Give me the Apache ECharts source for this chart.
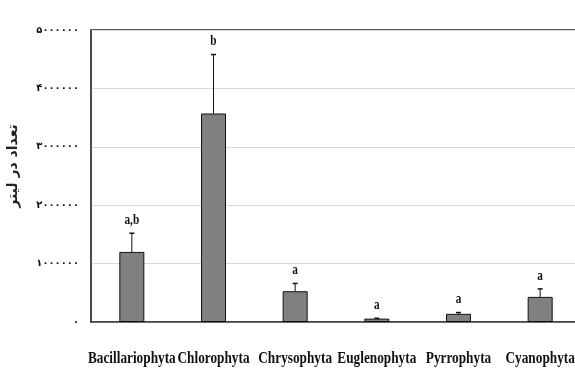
<!DOCTYPE html>
<html>
<head>
<meta charset="utf-8">
<script src="https://cdn.jsdelivr.net/npm/echarts@6/dist/echarts.min.js"></script>
<style>
  html, body { margin: 0; padding: 0; background: #fff; }
  #chart { width: 575px; height: 368px; }
</style>
</head>
<body>
<div id="chart"></div>
<script>
const categories = ['Bacillariophyta', 'Chlorophyta', 'Chrysophyta', 'Euglenophyta', 'Pyrrophyta', 'Cyanophyta'];
const counts = [1200000, 3570000, 527000, 58000, 140000, 430000];
const errors = [320000, 1010000, 133000, 6000, 22000, 137000];
const letters = ['a,b', 'b', 'a', 'a', 'a', 'a'];
const yTitle = 'تعداد در لیتر';

const persianDigits = '۰۱۲۳۴۵۶۷۸۹';
const toPersian = v => String(v).replace(/\d/g, d => persianDigits[d]);

const serif = '"Liberation Serif", "Times New Roman", serif';

const chart = echarts.init(document.getElementById('chart'));
chart.setOption({
  animation: false,
  grid: {
    left: 91,
    right: -6,
    top: 30,
    bottom: 46,
    outerBoundsMode: 'none',
    show: true,
    borderColor: '#222',
    borderWidth: 1.5,
  },
  xAxis: {
    type: 'category',
    data: categories,
    axisTick: { show: false },
    axisLine: { lineStyle: { color: '#444', width: 1.5 } },
    // labels drawn narrow by the custom series below
    axisLabel: { show: false },
  },
  yAxis: {
    type: 'value',
    min: 0,
    max: 5000000,
    interval: 1000000,
    name: yTitle,
    nameLocation: 'middle',
    nameGap: 71,
    nameTextStyle: {
      fontFamily: '"DejaVu Sans", sans-serif',
      fontWeight: 'bold',
      fontSize: 14,
      color: '#222',
      padding: [0, 0, 0, 20],
    },
    axisLine: { show: true, lineStyle: { color: '#444', width: 1.5 } },
    axisTick: { show: false },
    splitLine: { lineStyle: { color: '#d9d9d9', width: 1 } },
    axisLabel: {
      margin: 12,
      color: '#111',
      fontFamily: '"DejaVu Sans", sans-serif',
      fontWeight: 'bold',
      fontSize: 10,
      formatter: v => toPersian(v),
    },
  },
  series: [
    {
      type: 'bar',
      data: counts,
      barWidth: 25,
      itemStyle: { color: '#808080', borderColor: '#111', borderWidth: 1 },
      z: 2,
    },
    {
      type: 'custom',
      data: categories.map((c, i) => [i, counts[i], errors[i]]),
      z: 3,
      renderItem: (params, api) => {
        const base = api.coord([api.value(0), api.value(1)]);
        const top = api.coord([api.value(0), api.value(1) + api.value(2)]);
        const zero = api.coord([api.value(0), 0]);
        const x = base[0];
        return {
          type: 'group',
          children: [
            { type: 'line', shape: { x1: x, y1: base[1], x2: x, y2: top[1] }, style: { stroke: '#111', lineWidth: 1 } },
            { type: 'line', shape: { x1: x - 2.5, y1: top[1], x2: x + 2.5, y2: top[1] }, style: { stroke: '#111', lineWidth: 1.5 } },
            {
              type: 'text',
              x: x,
              y: top[1] - 13,
              scaleX: 0.75,
              style: {
                text: letters[params.dataIndex],
                textAlign: 'center',
                textVerticalAlign: 'middle',
                font: 'bold 15px ' + serif,
                fill: '#111',
              },
            },
            {
              type: 'text',
              x: x,
              y: zero[1] + 37,
              scaleX: 0.83,
              style: {
                text: categories[params.dataIndex],
                textAlign: 'center',
                textVerticalAlign: 'middle',
                font: 'bold 16px ' + serif,
                fill: '#111',
              },
            },
          ],
        };
      },
    },
  ],
});
</script>
</body>
</html>
